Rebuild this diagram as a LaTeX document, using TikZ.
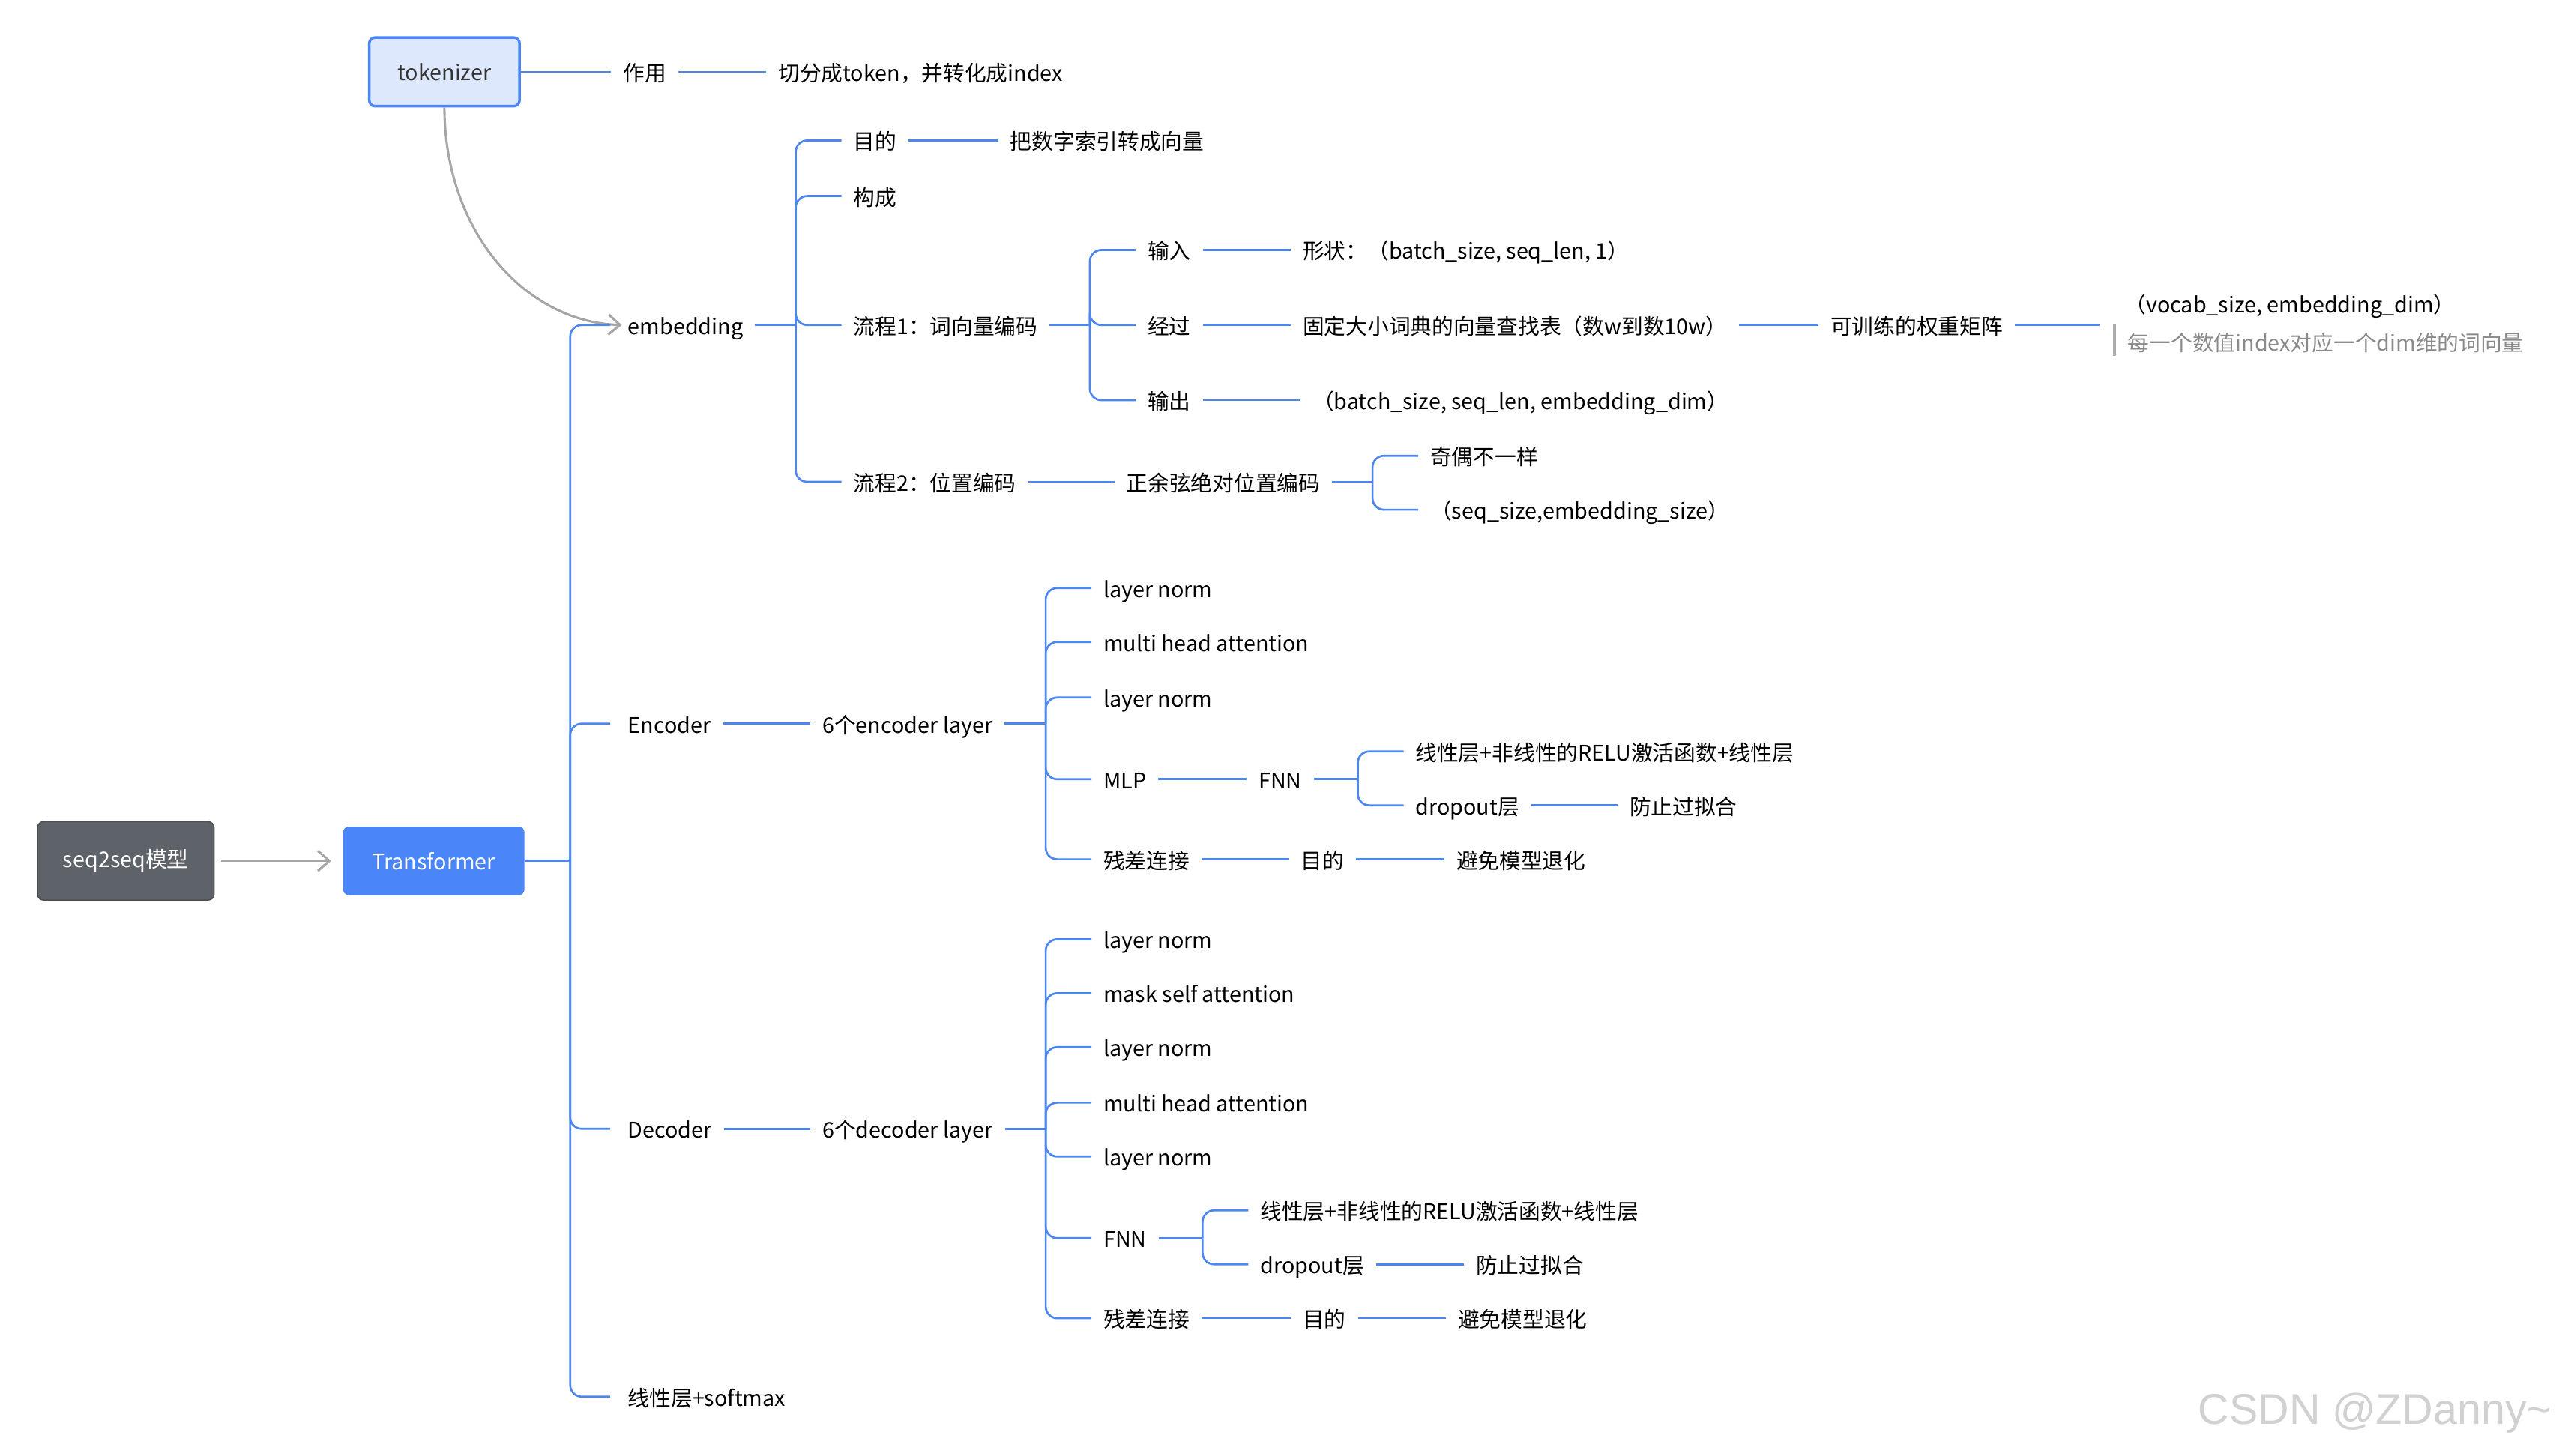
\documentclass[tikz,border=0pt]{standalone}
\usepackage{fontspec}
\setmainfont{Noto Sans CJK SC}
\usetikzlibrary{arrows.meta}
\definecolor{lineblue}{HTML}{4C86F0}
\definecolor{boxblue}{HTML}{4A86F7}
\definecolor{boxgray}{HTML}{5E6269}
\definecolor{tokfill}{HTML}{DDE8FC}
\definecolor{notegray}{HTML}{8A8A8A}
\tikzset{
 topic/.style={anchor=west,inner xsep=0.14cm,inner ysep=1pt,font=\fontsize{7.5}{9}\selectfont,text height=1.6ex,text depth=.4ex},
 conn/.style={lineblue,line width=0.7pt},
 branch/.style={lineblue,line width=0.7pt,rounded corners=4pt},
 rootbox/.style={rounded corners=2pt,font=\fontsize{7.5}{9}\selectfont,text=white},
 grayarrow/.style={black!35,line width=0.8pt,-{Straight Barb[length=4pt,width=7pt]}}
}
\begin{document}
\begin{tikzpicture}[x=0.02cm,y=-0.02cm]
 \useasboundingbox (0,0) rectangle (1568,891);
 % root boxes
 \node[rootbox,fill=boxgray,draw=boxgray!80!black,minimum width=2.16cm,minimum height=0.96cm] (seq) at (77,527) {seq2seq模型};
 \node[rootbox,fill=boxblue,minimum width=2.22cm,minimum height=0.84cm] (tf) at (265.5,527) {Transformer};
 \node[rootbox,fill=tokfill,draw=boxblue,line width=0.9pt,text=black!80,minimum width=1.84cm,minimum height=0.84cm] (tok) at (272,44) {tokenizer};
 \draw[grayarrow] (seq.east) ++(4,0) -- ([xshift=-4]tf.west);
 % tokenizer
 \node[topic] (use) at (374,44) {作用};
 \node[topic] (split) at (469,44) {切分成token，并转化成index};
 \draw[conn] (tok.east) -- (use.west);
 \draw[conn] (use.east) -- (split.west);
 % level 1
 \node[topic] (emb) at (377,199) {embedding};
 \node[topic] (enc) at (377,443) {Encoder};
 \node[topic] (dec) at (377,691) {Decoder};
 \node[topic] (lin) at (377,855) {线性层+softmax};
 \draw[grayarrow] (tok.south) .. controls (272,140) and (320,197) .. ([xshift=2]emb.west);
 \coordinate (tfsp) at (349,527);
 \draw[conn] (tf.east) -- (tfsp);
 \foreach \c in {emb,enc,dec,lin} \draw[branch] (tfsp) |- ([xshift=-2]\c.west);
 % embedding
 \node[topic] (aim) at (515,86) {目的};
 \node[topic] (aimt) at (611,86) {把数字索引转成向量};
 \node[topic] (make) at (515,120) {构成};
 \node[topic] (flow1) at (515,199) {流程1：词向量编码};
 \node[topic] (flow2) at (515,295) {流程2：位置编码};
 \coordinate (embsp) at (487,199);
 \draw[conn] (emb.east) -- (embsp);
 \foreach \c in {aim,make,flow1,flow2} \draw[branch] (embsp) |- (\c.west);
 \draw[conn] (aim.east) -- (aimt.west);
 % flow 1
 \node[topic] (inp) at (695,153) {输入};
 \node[topic] (inpt) at (790,153) {形状：（batch\_size, seq\_len, 1）};
 \node[topic] (via) at (695,199) {经过};
 \node[topic] (look) at (790,199) {固定大小词典的向量查找表（数w到数10w）};
 \node[topic] (train) at (1113,199) {可训练的权重矩阵};
 \node[topic] (outp) at (695,245) {输出};
 \node[topic] (outpt) at (796,245) {（batch\_size, seq\_len, embedding\_dim）};
 \coordinate (f1sp) at (667,199);
 \draw[conn] (flow1.east) -- (f1sp);
 \foreach \c in {inp,via,outp} \draw[branch] (f1sp) |- (\c.west);
 \draw[conn] (inp.east) -- (inpt.west);
 \draw[conn] (via.east) -- (look.west);
 \draw[conn] (look.east) -- (train.west);
 \draw[conn] (outp.east) -- (outpt.west);
 \node[topic] (vocab) at (1293,186) {（vocab\_size, embedding\_dim）};
 \node[topic,text=notegray] (note) at (1295,209) {每一个数值index对应一个dim维的词向量};
 \coordinate (vocabin) at (1285,199);
 \draw[conn] (train.east) -- (vocabin);
 \draw[notegray!70,line width=1pt] (1294,198) -- (1294,218);
 % flow 2
 \node[topic] (sincos) at (682,295) {正余弦绝对位置编码};
 \node[topic] (odd) at (868,279) {奇偶不一样};
 \node[topic] (pshape) at (868,312) {（seq\_size,embedding\_size）};
 \draw[conn] (flow2.east) -- (sincos.west);
 \coordinate (f2sp) at (840,295);
 \draw[conn] (sincos.east) -- (f2sp);
 \foreach \c in {odd,pshape} \draw[branch] (f2sp) |- (\c.west);
 % encoder
 \node[topic] (encl) at (496,443) {6个encoder layer};
 \draw[conn] (enc.east) -- (encl.west);
 \node[topic] (eln1) at (668,360) {layer norm};
 \node[topic] (emha) at (668,393) {multi head attention};
 \node[topic] (eln2) at (668,427) {layer norm};
 \node[topic] (mlp) at (668,477) {MLP};
 \node[topic] (eres) at (668,526) {残差连接};
 \coordinate (encsp) at (640,443);
 \draw[conn] (encl.east) -- (encsp);
 \foreach \c in {eln1,emha,eln2,mlp,eres} \draw[branch] (encsp) |- (\c.west);
 \node[topic] (efnn) at (763,477) {FNN};
 \draw[conn] (mlp.east) -- (efnn.west);
 \node[topic] (elin) at (859,460) {线性层+非线性的RELU激活函数+线性层};
 \node[topic] (edrop) at (859,493) {dropout层};
 \node[topic] (eover) at (990,493) {防止过拟合};
 \coordinate (efsp) at (831,477);
 \draw[conn] (efnn.east) -- (efsp);
 \foreach \c in {elin,edrop} \draw[branch] (efsp) |- (\c.west);
 \draw[conn] (edrop.east) -- (eover.west);
 \node[topic] (eaim) at (789,526) {目的};
 \node[topic] (eavoid) at (884,526) {避免模型退化};
 \draw[conn] (eres.east) -- (eaim.west);
 \draw[conn] (eaim.east) -- (eavoid.west);
 % decoder
 \node[topic] (decl) at (496,691) {6个decoder layer};
 \draw[conn] (dec.east) -- (decl.west);
 \node[topic] (dln1) at (668,575) {layer norm};
 \node[topic] (dmsa) at (668,608) {mask self attention};
 \node[topic] (dln2) at (668,641) {layer norm};
 \node[topic] (dmha) at (668,675) {multi head attention};
 \node[topic] (dln3) at (668,708) {layer norm};
 \node[topic] (dfnn) at (668,758) {FNN};
 \node[topic] (dres) at (668,807) {残差连接};
 \coordinate (decsp) at (640,691);
 \draw[conn] (decl.east) -- (decsp);
 \foreach \c in {dln1,dmsa,dln2,dmha,dln3,dfnn,dres} \draw[branch] (decsp) |- (\c.west);
 \node[topic] (dlin) at (764,741) {线性层+非线性的RELU激活函数+线性层};
 \node[topic] (ddrop) at (764,774) {dropout层};
 \node[topic] (dover) at (896,774) {防止过拟合};
 \coordinate (dfsp) at (736,758);
 \draw[conn] (dfnn.east) -- (dfsp);
 \foreach \c in {dlin,ddrop} \draw[branch] (dfsp) |- (\c.west);
 \draw[conn] (ddrop.east) -- (dover.west);
 \node[topic] (daim) at (790,807) {目的};
 \node[topic] (davoid) at (885,807) {避免模型退化};
 \draw[conn] (dres.east) -- (daim.west);
 \draw[conn] (daim.east) -- (davoid.west);
 % watermark
 \node[anchor=east,text=black!18,font=\fontsize{15}{17}\selectfont\fontspec{Liberation Sans}] (mark) at (1568,865) {CSDN @ZDanny\textasciitilde};
\end{tikzpicture}
\end{document}
